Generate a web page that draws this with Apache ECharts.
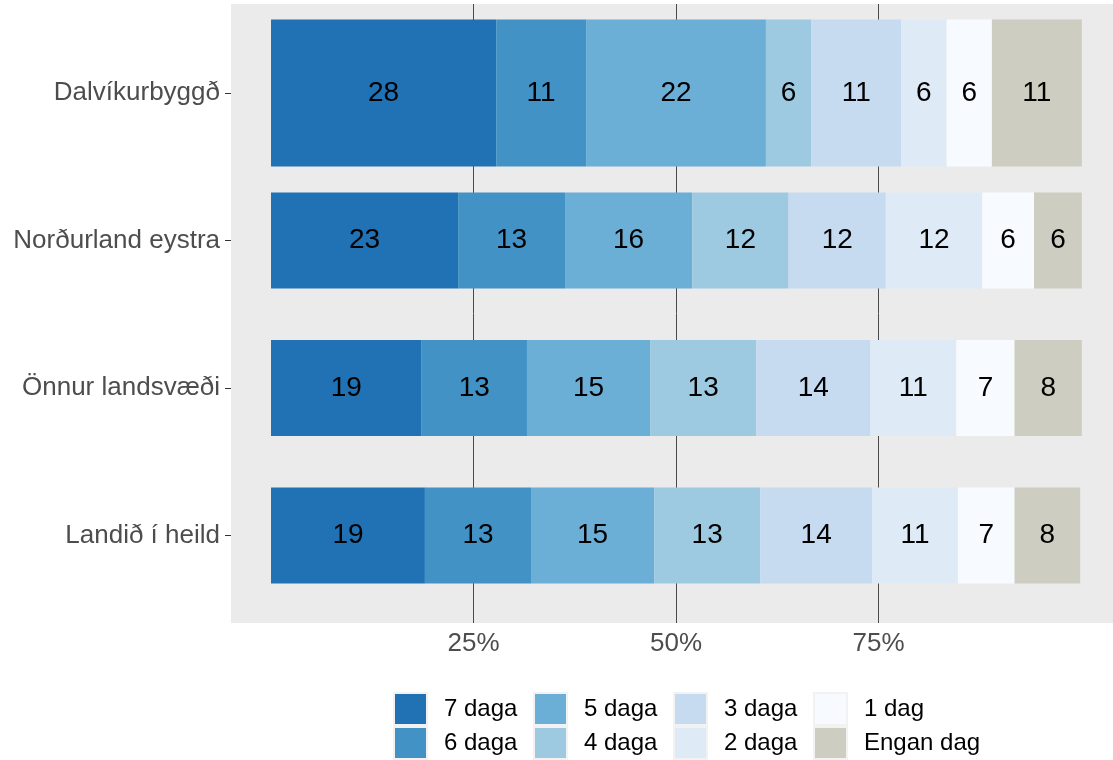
<!DOCTYPE html>
<html><head><meta charset="utf-8">
<script src="https://cdn.jsdelivr.net/npm/echarts@6/dist/echarts.min.js"></script>
<style>html,body{margin:0;padding:0;background:#fff}#c{width:1113px;height:760px}</style>
</head><body><div id="c"></div>
<script>
const categories = ['Dalvíkurbyggð', 'Norðurland eystra', 'Önnur landsvæði', 'Landið í heild'];
const seriesNames = ['7 daga', '6 daga', '5 daga', '4 daga', '3 daga', '2 daga', '1 dag', 'Engan dag'];
const v7 = [27.8, 23.1, 18.6, 19.0];
const v6 = [11.1, 13.2, 13.0, 13.1];
const v5 = [22.2, 15.7, 15.2, 15.2];
const v4 = [5.6, 11.9, 13.1, 13.1];
const v3 = [11.1, 12.0, 14.1, 13.8];
const v2 = [5.6, 11.9, 10.6, 10.6];
const v1 = [5.6, 6.4, 7.2, 7.0];
const v0 = [11.1, 5.9, 8.3, 8.1];
const tickValues = [25, 50, 75];
const tickLabels = ['25%', '50%', '75%'];

const allValues = [v7, v6, v5, v4, v3, v2, v1, v0];
const colors = ['#2171B5', '#4292C6', '#6BAED6', '#9ECAE1', '#C6DBEF', '#DEEBF7', '#F7FBFF', '#CDCDC1'];
const FONT = '"Liberation Sans", Arial, sans-serif';
const XMIN = -4.94, XMAX = 103.95;

const series = [];
// gridlines (behind bars)
series.push({
  type: 'line', xAxisIndex: 0, yAxisIndex: 0, data: [], z: 1, silent: true,
  markLine: {
    z: 1, silent: true, symbol: 'none', label: { show: false },
    lineStyle: { color: '#4a4a4a', width: 1, type: 'solid' },
    data: tickValues.map(v => ({ xAxis: v }))
  }
});
const labelCfg = {
  show: true, position: 'inside', color: '#000', fontSize: 28, fontFamily: FONT,
  formatter: p => Math.round(p.value)
};
allValues.forEach((vals, i) => {
  series.push({
    name: seriesNames[i], type: 'bar', stack: 'a', xAxisIndex: 1, yAxisIndex: 1, z: 3,
    barWidth: 96, itemStyle: { color: colors[i] }, label: labelCfg,
    data: vals.map((v, j) => j === 0 ? '-' : v)
  });
});
allValues.forEach((vals, i) => {
  series.push({
    name: seriesNames[i], type: 'bar', stack: 'b', xAxisIndex: 1, yAxisIndex: 2, z: 3,
    barWidth: 147, itemStyle: { color: colors[i] }, label: labelCfg,
    data: vals.map((v, j) => j === 0 ? v : '-')
  });
});

const legendLeft = [393, 533, 673, 813];
const legendTop = [692, 726];
const legends = seriesNames.map((name, i) => ({
  left: legendLeft[Math.floor(i / 2)], top: legendTop[i % 2], padding: 0,
  itemWidth: 33, itemHeight: 32, icon: 'rect', selectedMode: false,
  itemStyle: { borderColor: '#F2F2F2', borderWidth: 2 },
  textStyle: { fontSize: 24, color: '#000', fontFamily: FONT, padding: [0, 0, 0, 12] },
  data: [name]
}));

const chart = echarts.init(document.getElementById('c'), null, { renderer: 'canvas' });
chart.setOption({
  animation: false,
  backgroundColor: '#fff',
  grid: [
    { left: 231, right: 0, top: 4, bottom: 137, show: true, backgroundColor: '#EBEBEB', borderWidth: 0 },
    { left: 231, right: 0, top: 19.25, height: 590 }
  ],
  xAxis: [
    { type: 'value', gridIndex: 0, min: XMIN, max: XMAX,
      axisLine: { show: false }, axisTick: { show: false }, splitLine: { show: false },
      axisLabel: { customValues: tickValues, formatter: v => tickLabels[tickValues.indexOf(v)] || '',
        fontSize: 26, color: '#4D4D4D', fontFamily: FONT, margin: 8 } },
    { type: 'value', gridIndex: 1, min: XMIN, max: XMAX, show: false, splitLine: { show: false } }
  ],
  yAxis: [
    { type: 'value', gridIndex: 0, min: 0, max: 1, show: false, splitLine: { show: false } },
    { type: 'category', gridIndex: 1, data: categories, inverse: true,
      axisLine: { show: false, onZero: false },
      axisTick: { show: true, length: 6, lineStyle: { color: '#333' }, alignWithLabel: true },
      axisLabel: { fontSize: 26, color: '#4D4D4D', fontFamily: FONT, margin: 11 } },
    { type: 'category', gridIndex: 1, data: categories, inverse: true, show: false,
      axisLine: { onZero: false } }
  ],
  legend: legends,
  series: series
});
</script></body></html>
